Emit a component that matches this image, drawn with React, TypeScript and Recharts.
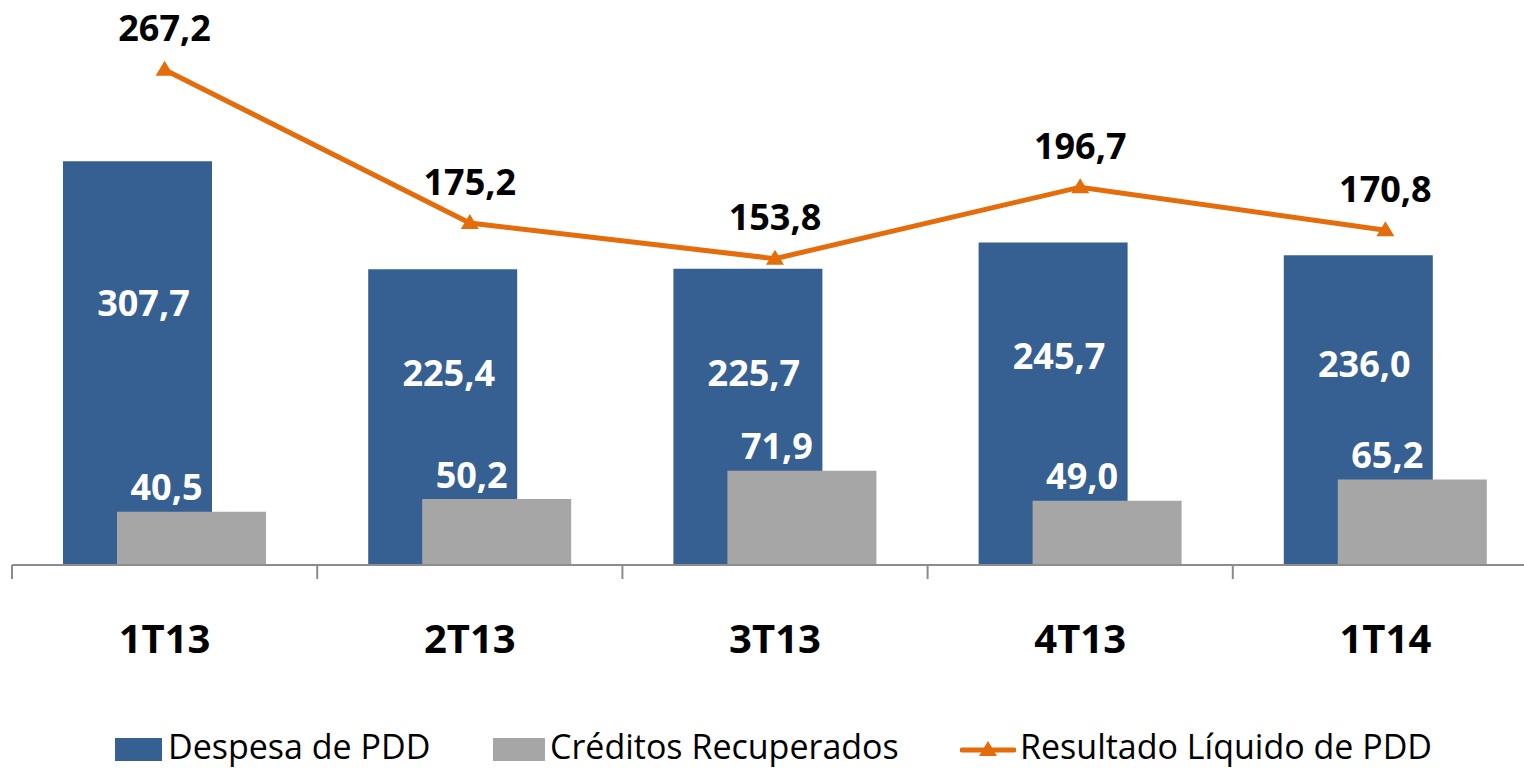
import { ComposedChart, Bar, Line, XAxis, YAxis, Legend, LabelList } from "recharts";

// Data
const quarters = ["1T13", "2T13", "3T13", "4T13", "1T14"];
const despesaPDD = [307.7, 225.4, 225.7, 245.7, 236.0];
const creditosRecuperados = [40.5, 50.2, 71.9, 49.0, 65.2];
const resultadoLiquido = [267.2, 175.2, 153.8, 196.7, 170.8];

const data = quarters.map((quarter, i) => ({
  quarter,
  despesa: despesaPDD[i],
  creditos: creditosRecuperados[i],
  resultado: resultadoLiquido[i]
}));

const BLUE = "#376092";
const GRAY = "#A6A6A6";
const ORANGE = "#E46C0A";
const AXIS = "#8C8C8C";
const FONT = '"Open Sans", sans-serif';

const CHART_W = 1540;
const CHART_H = 768;
const MARGIN = { top: 40, right: 2, left: 12, bottom: 0 };
const BAND = (CHART_W - MARGIN.left - MARGIN.right) / quarters.length;
const LEGEND_H = 44;

const fmt = (v: any) => Number(v).toFixed(1).replace(".", ",");

const CategoryTick = (props: any) => {
  const { x, y, payload, index } = props;
  const half = BAND / 2;
  return (
    <g>
      <line x1={x - half} x2={x - half} y1={y} y2={y + 14} stroke={AXIS} strokeWidth={2} />
      {index === quarters.length - 1 && (
        <line x1={x + half} x2={x + half} y1={y} y2={y + 14} stroke={AXIS} strokeWidth={2} />
      )}
      <text
        x={x}
        y={y + 72}
        textAnchor="middle"
        dominantBaseline="central"
        fontSize={40}
        fontWeight={700}
        fontFamily={FONT}
        fill="#000"
      >
        {payload.value}
      </text>
    </g>
  );
};

const Triangle = (props: any) => {
  const { cx, cy } = props;
  if (cx == null || cy == null) return null;
  return <polygon points={`${cx},${cy - 9} ${cx - 9},${cy + 6} ${cx + 9},${cy + 6}`} fill={ORANGE} />;
};

const blueLabel = (p: any) => (
  <text
    x={p.x + p.width / 2 + 6}
    y={p.y + p.height * 0.35}
    textAnchor="middle"
    dominantBaseline="central"
    fontSize={36}
    fontWeight={700}
    fontFamily={FONT}
    fill="#fff"
  >
    {fmt(p.value)}
  </text>
);

const grayLabel = (p: any) => (
  <text
    x={p.x + p.width / 2 - 25}
    y={p.y - 25}
    textAnchor="middle"
    dominantBaseline="central"
    fontSize={36}
    fontWeight={700}
    fontFamily={FONT}
    fill="#fff"
  >
    {fmt(p.value)}
  </text>
);

const lineLabel = (p: any) => (
  <text
    x={p.x}
    y={p.y - 42}
    textAnchor="middle"
    dominantBaseline="central"
    fontSize={36}
    fontWeight={700}
    fontFamily={FONT}
    fill="#000"
  >
    {fmt(p.value)}
  </text>
);

const legendOrder = ["despesa", "creditos", "resultado"];
const legendLeft = [115, 493, 960];

const LegendContent = (props: any) => {
  const { payload = [] } = props;
  return (
    <div style={{ position: "relative", width: 1524, height: LEGEND_H, fontFamily: FONT, fontSize: 34, color: "#000" }}>
      {payload.map((entry: any) => {
        const i = legendOrder.indexOf(entry.dataKey);
        const left = legendLeft[i];
        const isLine = entry.type === "line";
        return (
          <div key={entry.dataKey}>
            {isLine ? (
              <svg style={{ position: "absolute", left, top: 11 }} width={56} height={30}>
                <line x1={2} x2={54} y1={15} y2={15} stroke={entry.color} strokeWidth={5} strokeLinecap="round" />
                <polygon points="28,6 19,21 37,21" fill={entry.color} />
              </svg>
            ) : (
              <div style={{ position: "absolute", left, top: 14, width: i === 0 ? 47 : 52, height: 23, background: entry.color }} />
            )}
            <span
              style={{
                position: "absolute",
                left: left + (isLine ? 60 : i === 0 ? 53 : 57),
                top: 0,
                lineHeight: `${LEGEND_H}px`,
                height: LEGEND_H,
                whiteSpace: "nowrap"
              }}
            >
              {entry.value}
            </span>
          </div>
        );
      })}
    </div>
  );
};

export default () => {
  return (
    <div style={{ position: "absolute", left: 0, top: 0, width: 1524, height: 768, overflow: "hidden", background: "#fff" }}>
      <ComposedChart width={CHART_W} height={CHART_H} data={data} margin={MARGIN} barSize={149} barGap={-95}>
        <XAxis
          dataKey="quarter"
          height={203 - LEGEND_H}
          tickSize={0}
          tickMargin={0}
          stroke={AXIS}
          strokeWidth={2}
          tick={<CategoryTick />}
          interval={0}
        />
        <YAxis yAxisId="left" hide domain={[0, 400]} />
        <YAxis yAxisId="right" orientation="right" hide domain={[-30, 285]} />
        <Legend
          verticalAlign="bottom"
          content={<LegendContent />}
          wrapperStyle={{ left: 0, bottom: 0, width: 1524, height: LEGEND_H }}
        />
        <Bar yAxisId="left" dataKey="despesa" name="Despesa de PDD" fill={BLUE} isAnimationActive={false}>
          <LabelList dataKey="despesa" content={blueLabel} />
        </Bar>
        <Bar yAxisId="left" dataKey="creditos" name="Créditos Recuperados" fill={GRAY} isAnimationActive={false}>
          <LabelList dataKey="creditos" content={grayLabel} />
        </Bar>
        <Line
          yAxisId="right"
          dataKey="resultado"
          name="Resultado Líquido de PDD"
          stroke={ORANGE}
          strokeWidth={5}
          dot={<Triangle />}
          activeDot={false}
          isAnimationActive={false}
        >
          <LabelList dataKey="resultado" content={lineLabel} />
        </Line>
      </ComposedChart>
    </div>
  );
};
